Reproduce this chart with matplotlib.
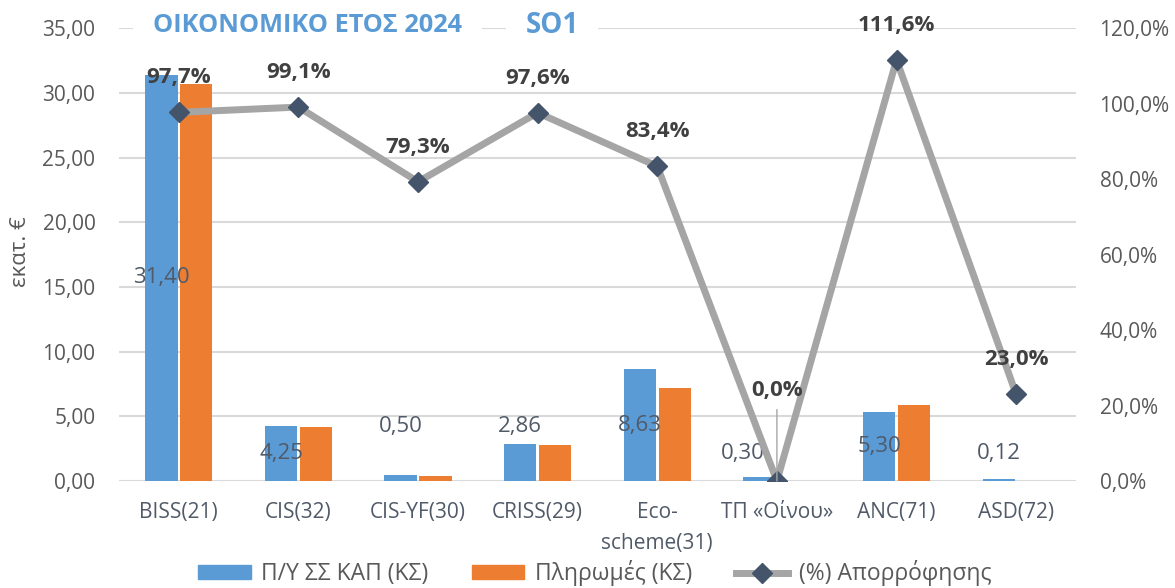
import matplotlib
matplotlib.use("Agg")
import matplotlib.pyplot as plt
import matplotlib.patches as mpatches
from matplotlib.lines import Line2D
import numpy as np

plt.rcParams["font.family"] = ["Open Sans", "DejaVu Sans"]

# ─── Data ────────────────────────────────────────────────────────────────────
categories = ["BISS(21)", "CIS(32)", "CIS-YF(30)", "CRISS(29)",
              "Eco-\nscheme(31)", "ΤΠ «Οίνου»", "ANC(71)", "ASD(72)"]
budget   = [31.40, 4.25, 0.50, 2.86, 8.63, 0.30, 5.30, 0.12]   # Π/Υ ΣΣ ΚΑΠ (ΚΣ)
payments = [30.68, 4.21, 0.40, 2.79, 7.20, 0.00, 5.91, 0.03]   # Πληρωμές (ΚΣ)
absorb   = [97.7, 99.1, 79.3, 97.6, 83.4, 0.0, 111.6, 23.0]    # (%) Απορρόφησης

left_ticks  = [0, 5, 10, 15, 20, 25, 30, 35]
right_ticks = [0, 20, 40, 60, 80, 100, 120]

BLUE   = "#5B9BD5"
ORANGE = "#ED7D31"
LINE   = "#A5A5A5"
MARK   = "#44546A"
TXT    = "#595959"
LBL    = "#505A68"

# label tweaks (left-axis units for value labels)
val_label_y = {2: 4.2, 3: 4.2, 5: 2.15, 7: 2.1}
val_label_dx = {5: -0.14}

fig = plt.figure(figsize=(11.75, 5.88), dpi=100)
ax = fig.add_axes([0.1013, 0.182, 0.8144, 0.770])
ax2 = ax.twinx()

x = np.arange(len(categories))
w = 0.27
off = 0.146
ax.bar(x - off, budget, w, color=BLUE, zorder=2)
ax.bar(x + off, payments, w, color=ORANGE, zorder=2)

ax.set_xlim(-0.5, len(categories) - 0.5)
ax.set_ylim(0, 35)
ax.set_yticks(left_ticks)
ax.set_yticklabels([f"{t:.2f}".replace(".", ",") for t in left_ticks])
ax.set_xticks(x)
ax.set_xticklabels(categories)
ax.grid(axis="y", color="#D9D9D9", lw=1.5, zorder=0)
ax.set_axisbelow(True)
ax.tick_params(axis="y", length=0, labelsize=15, colors=TXT, pad=17)
ax.tick_params(axis="x", length=0, labelsize=15, colors=TXT,
               labelcolor=LBL, pad=15)
for lab in ax.get_xticklabels():
    lab.set_linespacing(1.65)
    lab.set_verticalalignment("top")

# y axis title
fig.text(21 / 1175, 1 - 252 / 588, "εκατ. €", rotation=90, fontsize=16,
         color=TXT, ha="center", va="center")

for i, v in enumerate(budget):
    yl = val_label_y.get(i, v / 2)
    ax.text(x[i] - off + val_label_dx.get(i, 0), yl,
            f"{v:.2f}".replace(".", ","), ha="center", va="center",
            fontsize=16, color=LBL, zorder=5)

ax2.plot(x, absorb, color=LINE, lw=5, marker="D", markersize=10,
         markerfacecolor=MARK, markeredgecolor=MARK, zorder=4)
ax2.set_ylim(0, 120)
ax2.set_yticks(right_ticks)
ax2.set_yticklabels([f"{t:.1f}%".replace(".", ",") for t in right_ticks])
ax2.tick_params(axis="y", length=0, labelsize=15, colors=TXT, pad=17)

for i, p in enumerate(absorb):
    txt = f"{p:.1f}%".replace(".", ",")
    if p == 0:
        ax2.annotate(txt, (x[i], p), xytext=(0, 65), textcoords="offset points",
                     ha="center", va="center", fontsize=16, fontweight="bold",
                     color="#404040", zorder=6,
                     arrowprops=dict(arrowstyle="-", color="#A6A6A6", lw=1,
                                     shrinkA=4, shrinkB=0))
    else:
        ax2.annotate(txt, (x[i], p), xytext=(0, 25), textcoords="offset points",
                     ha="center", va="center", fontsize=16, fontweight="bold",
                     color="#404040", zorder=6)

for a in (ax, ax2):
    for s in a.spines.values():
        s.set_visible(False)

# title over the top gridline
fig.text(0.2617, 0.956, "ΟΙΚΟΝΟΜΙΚΟ ΕΤΟΣ 2024", fontsize=18.3, fontweight="bold",
         color=BLUE, ha="center", va="center",
         bbox=dict(facecolor="white", edgecolor="none", pad=14))
fig.text(0.4698, 0.956, "SO1", fontsize=20, fontweight="bold",
         color=BLUE, ha="center", va="center",
         bbox=dict(facecolor="white", edgecolor="none", pad=14))

handles = [mpatches.Patch(color=BLUE, label="Π/Υ ΣΣ ΚΑΠ (ΚΣ)"),
           mpatches.Patch(color=ORANGE, label="Πληρωμές (ΚΣ)"),
           Line2D([], [], color=LINE, lw=5, marker="D", markersize=10,
                  markerfacecolor=MARK, markeredgecolor=MARK,
                  label="(%) Απορρόφησης")]
fig.legend(handles=handles, loc="lower center", bbox_to_anchor=(0.506, -0.032),
           ncol=3, frameon=False, fontsize=16.5, handlelength=2.3,
           handleheight=0.6, handletextpad=0.45, columnspacing=1.9,
           labelcolor=TXT)

fig.savefig("out.png", dpi=100)
